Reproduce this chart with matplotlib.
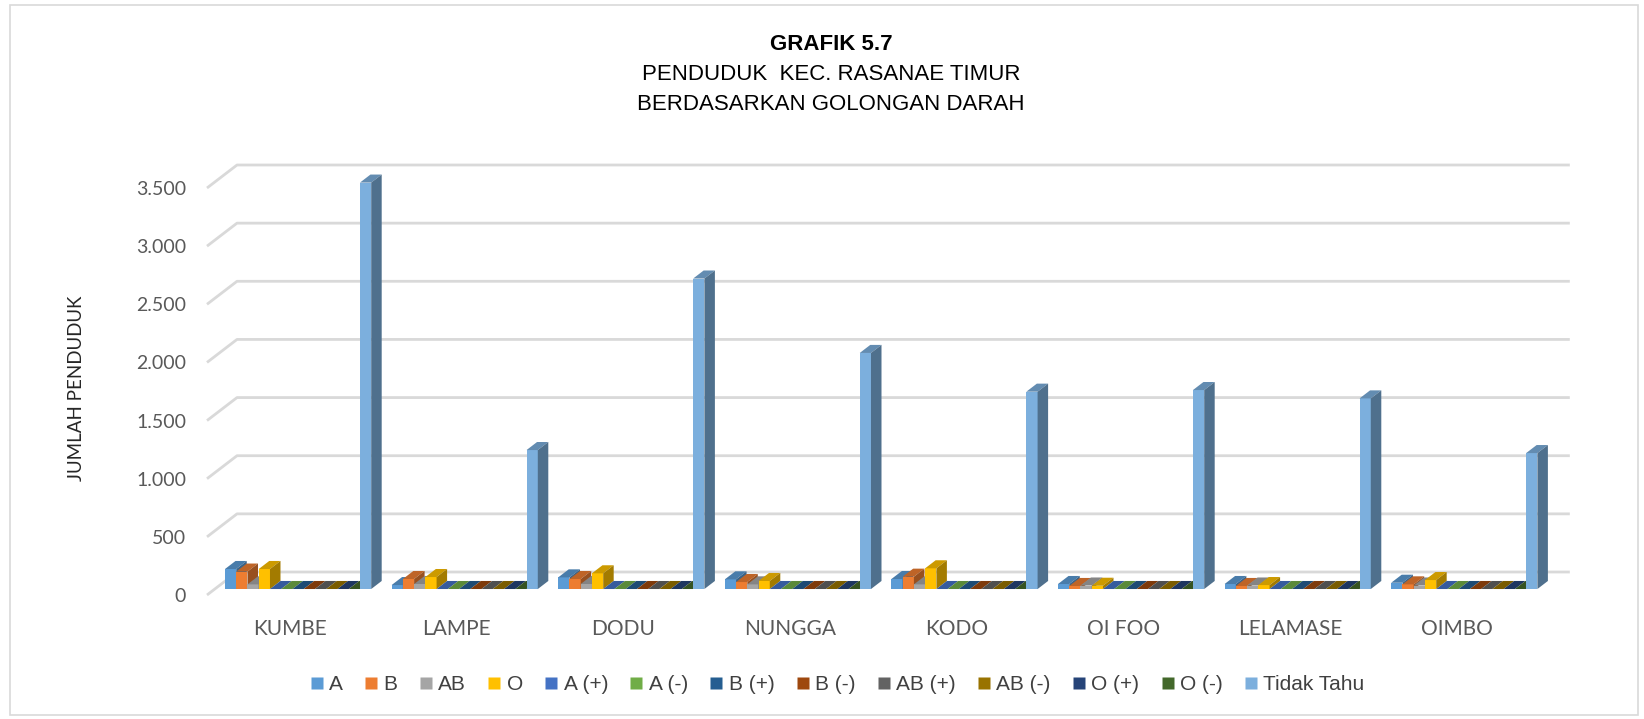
import matplotlib
matplotlib.use("Agg")
import matplotlib.pyplot as plt
from matplotlib.patches import Polygon, Rectangle
from matplotlib.lines import Line2D
from matplotlib.colors import to_rgb
import numpy as np

desa = ["KUMBE", "LAMPE", "DODU", "NUNGGA", "KODO", "OI FOO", "LELAMASE", "OIMBO"]
golongan = ["A", "B", "AB", "O", "A (+)", "A (-)", "B (+)", "B (-)",
            "AB (+)", "AB (-)", "O (+)", "O (-)", "Tidak Tahu"]

gol_a = [172, 34, 100, 83, 86, 43, 43, 54]
gol_b = [150, 86, 86, 60, 106, 26, 26, 40]
gol_ab = [40, 43, 43, 40, 40, 30, 30, 30]
gol_o = [172, 103, 135, 69, 178, 28, 34, 77]
gol_rhesus = [0, 0, 0, 0, 0, 0, 0, 0]   # A(+) s/d O(-) kosong
tidak_tahu = [3495, 1195, 2670, 2030, 1697, 1711, 1639, 1169]

nilai = [gol_a, gol_b, gol_ab, gol_o] + [gol_rhesus] * 8 + [tidak_tahu]

warna = ["#5B9BD5", "#ED7D31", "#A5A5A5", "#FFC000", "#4472C4", "#70AD47",
         "#255E91", "#9E480E", "#636363", "#997300", "#264478", "#43682B",
         "#7CAFDD"]

yticks = [0, 500, 1000, 1500, 2000, 2500, 3000, 3500]
ytick_labels = ["0", "500", "1.000", "1.500", "2.000", "2.500", "3.000", "3.500"]

judul_font = ["Liberation Sans", "DejaVu Sans"]
label_font = ["Lato", "DejaVu Sans"]
abu = "#595959"
grid_col = "#D9D9D9"


def gelap(c, f):
    r, g, b = to_rgb(c)
    return (r * f, g * f, b * f)


W, H = 1644, 719
fig = plt.figure(figsize=(W / 100, H / 100), dpi=100)

# kotak luar grafik
fig.patches.append(Rectangle((10 / W, 4 / H), 1 - 16 / W, 1 - 9 / H,
                             transform=fig.transFigure, fill=False,
                             edgecolor=grid_col, linewidth=1.2))

px_per_unit = 407 / 3500
cat_px = 166.6
x_lo, x_hi = -0.5, 7.7
y_lo, y_hi = 0, 3750
ax = fig.add_axes([207 / W, 124 / H, (x_hi - x_lo) * cat_px / W,
                   (y_hi - y_lo) * px_per_unit / H])
ax.set_xlim(x_lo, x_hi)
ax.set_ylim(y_lo, y_hi)
for s in ax.spines.values():
    s.set_visible(False)

# kedalaman 3D: dinding belakang dan posisi batang
wall_dx = 30 / cat_px
wall_dy = 23 / px_per_unit
bar_d0, bar_d1 = 0.26, 0.61
ox, oy = bar_d0 * wall_dx, bar_d0 * wall_dy
ddx, ddy = (bar_d1 - bar_d0) * wall_dx, (bar_d1 - bar_d0) * wall_dy

# garis kisi di dinding belakang dan lantai samping
for v in yticks:
    ax.plot([-0.5, -0.5 + wall_dx, 7.5 + wall_dx], [v, v + wall_dy, v + wall_dy],
            color=grid_col, linewidth=2, zorder=1, clip_on=False,
            solid_capstyle="butt")

bw = 0.0675
start = -bw * len(golongan) / 2
z = 3
for i in range(len(desa)):
    for j, (vals, c) in enumerate(zip(nilai, warna)):
        h = vals[i]
        x0 = i + start + j * bw + ox
        ax.bar(x0, h, width=bw, bottom=oy, align="edge", color=c,
               linewidth=0, zorder=z)
        top = [(x0, oy + h), (x0 + bw, oy + h), (x0 + bw + ddx, oy + h + ddy),
               (x0 + ddx, oy + h + ddy)]
        side = [(x0 + bw, oy), (x0 + bw, oy + h), (x0 + bw + ddx, oy + h + ddy),
                (x0 + bw + ddx, oy + ddy)]
        ax.add_patch(Polygon(top, closed=True, facecolor=gelap(c, 0.8),
                             edgecolor="none", zorder=z, clip_on=False))
        ax.add_patch(Polygon(side, closed=True, facecolor=gelap(c, 0.64),
                             edgecolor="none", zorder=z, clip_on=False))
        z += 1

ax.set_yticks(yticks)
ax.set_yticklabels(ytick_labels, family=label_font, fontsize=14, color=abu)
ax.set_xticks(np.arange(len(desa)))
ax.set_xticklabels(desa, family=label_font, fontsize=15, color=abu)
ax.tick_params(axis="y", length=0, pad=15)
ax.tick_params(axis="x", length=0, pad=17)

fig.text(76 / W, 1 - 388 / H, "JUMLAH PENDUDUK", rotation=90, ha="center",
         va="center", family=label_font, fontsize=13.5, color="#262626")

fig.text(831 / W, 1 - 45 / H, "GRAFIK 5.7", ha="center", va="center",
         family=judul_font, fontsize=16, fontweight="bold", color="black")
fig.text(831 / W, 1 - 75 / H, "PENDUDUK  KEC. RASANAE TIMUR", ha="center",
         va="center", family=judul_font, fontsize=16, color="black")
fig.text(831 / W, 1 - 104 / H, "BERDASARKAN GOLONGAN DARAH", ha="center",
         va="center", family=judul_font, fontsize=16, color="black")

handles = [Line2D([], [], marker="s", linestyle="none", markersize=9,
                  markerfacecolor=c, markeredgecolor="none") for c in warna]
fig.legend(handles, golongan, loc="center", ncol=len(golongan),
           bbox_to_anchor=(837 / W, 1 - 685 / H), frameon=False,
           prop={"family": judul_font, "size": 15}, handlelength=0.7,
           handletextpad=0.25, columnspacing=1.0, labelcolor="#404040")

fig.savefig("out.png", dpi=100)
